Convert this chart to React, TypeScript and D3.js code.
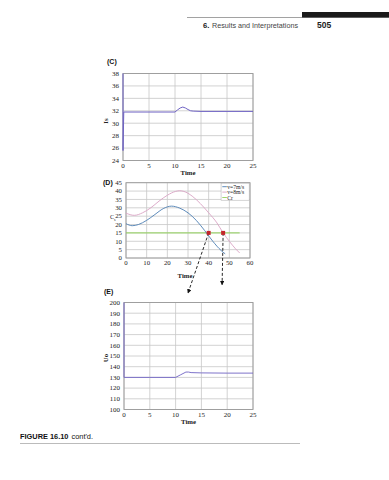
import React from 'react';
import * as d3 from 'd3';

// ---------- data ----------
const cTicksX = [0, 5, 10, 15, 20, 25];
const cTicksY = [24, 26, 28, 30, 32, 34, 36, 38];
const cTime = [0, 0, 0.15, 5, 10, 10.5, 11, 11.5, 12, 12.5, 13, 13.5, 15, 20, 25];
const cIs = [38, 25.6, 31.8, 31.8, 31.8, 32.15, 32.45, 32.6, 32.45, 32.2, 32.0, 31.95, 31.9, 31.9, 31.9];

const dTicksX = [0, 10, 20, 30, 40, 50, 60];
const dTicksY = [0, 5, 10, 15, 20, 25, 30, 35, 40, 45];
const d7Time = [0, 3, 6, 10, 14, 18, 22, 26, 30, 34, 38, 42, 46, 48];
const d7Val = [20.5, 19.3, 20, 22.5, 26, 29.5, 31, 29.8, 27, 22.5, 16.5, 10, 4.5, 2.5];
const d8Time = [0, 4, 8, 12, 16, 20, 24, 26, 28, 32, 36, 40, 44, 47, 50, 53, 55];
const d8Val = [26.8, 25.5, 27, 30, 34, 37.5, 39.8, 40.2, 39.8, 37, 32.5, 27, 21, 15, 10, 5.5, 3];
const crTime = [0, 55];
const crVal = [15, 15];
const dotTime = [40, 47];
const dotVal = [15, 15];
const arrowEndTime = [30, 46.5];
const arrowEndVal = [-21, -16];
const legendLabels = ['v=7m/s', 'v=8m/s', 'Cr'];

const eTicksX = [0, 5, 10, 15, 20, 25];
const eTicksY = [100, 110, 120, 130, 140, 150, 160, 170, 180, 190, 200];
const eTime = [0, 0, 0.15, 5, 10, 11, 12, 12.5, 13, 15, 20, 25];
const eUo = [200, 130, 130, 130, 130, 132.5, 135, 135, 134.5, 134.2, 134, 134];

// ---------- styles ----------
const GRID = '#c6c6c6';
const FRAME = '#9a9a9a';
const SERIF = 'Liberation Serif, serif';
const SANS = 'Liberation Sans, Arial, sans-serif';
const PURPLE = '#6f63c4';
const BLUE = '#4d7fb3';
const PINK = '#d9a3c4';
const GREEN = '#92d35a';
const RED = '#c4262b';

type Box = { l: number; r: number; t: number; b: number };

function Frame({ x, y, xt, yt, box, xl, fs = 7 }: any) {
  return (
    <g>
      {xt.map((v: number) => (
        <line key={'gx' + v} x1={x(v)} x2={x(v)} y1={box.t} y2={box.b} stroke={GRID} strokeWidth={0.8} />
      ))}
      {yt.map((v: number) => (
        <line key={'gy' + v} x1={box.l} x2={box.r} y1={y(v)} y2={y(v)} stroke={GRID} strokeWidth={0.8} />
      ))}
      <rect x={box.l} y={box.t} width={box.r - box.l} height={box.b - box.t} fill="none" stroke={FRAME} strokeWidth={0.9} />
      {xt.map((v: number) => (
        <text key={'tx' + v} x={x(v)} y={box.b + 7} fontSize={fs} fontFamily={SERIF} textAnchor="middle" fill="#222">{v}</text>
      ))}
      {yt.map((v: number) => (
        <text key={'ty' + v} x={box.l - 4} y={y(v) + 2.3} fontSize={fs} fontFamily={SERIF} textAnchor="end" fill="#222">{v}</text>
      ))}
      {xl ? (
        <text x={(box.l + box.r) / 2} y={box.b + 14.5} fontSize={6.8} fontFamily={SERIF} fontWeight="bold" textAnchor="middle" fill="#222">{xl}</text>
      ) : null}
    </g>
  );
}

export default function App() {
  // Plot C
  const bc: Box = { l: 123, r: 253, t: 73.5, b: 160.5 };
  const xc = d3.scaleLinear().domain([0, 25]).range([bc.l, bc.r]);
  const yc = d3.scaleLinear().domain([24, 38]).range([bc.b, bc.t]);
  const lineC = d3.line<number>().x((_, i) => xc(cTime[i])).y((v) => yc(v));

  // Plot D
  const bd: Box = { l: 126, r: 250, t: 182.7, b: 258 };
  const xd = d3.scaleLinear().domain([0, 60]).range([bd.l, bd.r]);
  const yd = d3.scaleLinear().domain([0, 45]).range([bd.b, bd.t]);
  const mk = (ts: number[]) => d3.line<number>().x((_, i) => xd(ts[i])).y((v) => yd(v)).curve(d3.curveMonotoneX);

  // Plot E
  const be: Box = { l: 124, r: 253, t: 302.5, b: 409.5 };
  const xe = d3.scaleLinear().domain([0, 25]).range([be.l, be.r]);
  const ye = d3.scaleLinear().domain([100, 200]).range([be.b, be.t]);
  const lineE = d3.line<number>().x((_, i) => xe(eTime[i])).y((v) => ye(v));

  const legendColors = [BLUE, PINK, GREEN];

  return (
    <svg width={389} height={480} style={{ position: 'absolute', left: 0, top: 0, background: '#fff' }}>
      <defs>
        <marker id="arr" viewBox="0 0 10 10" refX={9} refY={5} markerWidth={5} markerHeight={5} orient="auto">
          <path d="M0,0 L10,5 L0,10 z" fill="#111" />
        </marker>
      </defs>

      {/* page header */}
      <line x1={187} x2={389} y1={17.5} y2={17.5} stroke="#8a8a8a" strokeWidth={0.8} />
      <rect x={302} y={12} width={87} height={5.5} fill="#1a1a1a" />
      <text x={203} y={28} fontSize={7.6} fontFamily={SANS} fontWeight="bold" fill="#222">6.</text>
      <text x={212} y={28} fontSize={7.6} fontFamily={SANS} fill="#444" textLength={86} lengthAdjust="spacingAndGlyphs">Results and Interpretations</text>
      <text x={317} y={28} fontSize={8.5} fontFamily={SANS} fontWeight="bold" fill="#222">505</text>

      {/* Plot C */}
      <text x={107} y={64} fontSize={7} fontFamily={SANS} fontWeight="bold" fill="#111">(C)</text>
      <Frame x={xc} y={yc} xt={cTicksX} yt={cTicksY} box={bc} xl="Time" />
      <text transform={`translate(108,${(bc.t + bc.b) / 2 + 4}) rotate(-90)`} fontSize={6.8} fontFamily={SERIF} fontWeight="bold" textAnchor="middle" fill="#222">Is</text>
      <path d={lineC(cIs) || ''} fill="none" stroke={PURPLE} strokeWidth={1} />

      {/* Plot D */}
      <text x={103} y={185} fontSize={7} fontFamily={SANS} fontWeight="bold" fill="#111">(D)</text>
      <Frame x={xd} y={yd} xt={dTicksX} yt={dTicksY} box={bd} xl="" fs={6.8} />
      <text x={110} y={219} fontSize={6} fontFamily={SERIF} fill="#222">C<tspan fontSize={4} dy={1.5}>s</tspan></text>
      <path d={mk(crTime)(crVal) || ''} fill="none" stroke={GREEN} strokeWidth={1} />
      <path d={mk(d7Time)(d7Val) || ''} fill="none" stroke={BLUE} strokeWidth={0.9} />
      <path d={mk(d8Time)(d8Val) || ''} fill="none" stroke={PINK} strokeWidth={0.9} />
      {dotTime.map((t, i) => (
        <line key={'ar' + i} x1={xd(t)} y1={yd(dotVal[i])} x2={xd(arrowEndTime[i])} y2={yd(arrowEndVal[i])} stroke="#111" strokeWidth={0.9} strokeDasharray="3,2" markerEnd="url(#arr)" />
      ))}
      {dotTime.map((t, i) => (
        <rect key={'dot' + i} x={xd(t) - 2} y={yd(dotVal[i]) - 2} width={4} height={4} fill={RED} />
      ))}
      <rect x={xd(46)} y={bd.t + 0.5} width={xd(59.6) - xd(46)} height={17} fill="#fff" stroke="#aaa" strokeWidth={0.5} />
      {legendLabels.map((lab, i) => (
        <g key={'lg' + i}>
          <line x1={xd(46.6)} x2={xd(48.8)} y1={bd.t + 4 + i * 5.4} y2={bd.t + 4 + i * 5.4} stroke={legendColors[i]} strokeWidth={0.9} />
          <text x={xd(49)} y={bd.t + 6 + i * 5.4} fontSize={5.6} fontFamily={SERIF} fill="#222">{lab}</text>
        </g>
      ))}
      <text x={185} y={278} fontSize={6.8} fontFamily={SERIF} fontWeight="bold" textAnchor="middle" fill="#222">Time</text>

      {/* Plot E */}
      <text x={104} y={294} fontSize={7} fontFamily={SANS} fontWeight="bold" fill="#111">(E)</text>
      <Frame x={xe} y={ye} xt={eTicksX} yt={eTicksY} box={be} xl="Time" />
      <text transform={`translate(108,${(be.t + be.b) / 2 + 2}) rotate(-90)`} fontSize={6.8} fontFamily={SERIF} fontWeight="bold" textAnchor="middle" fill="#222">Uo</text>
      <path d={lineE(eUo) || ''} fill="none" stroke={PURPLE} strokeWidth={0.9} />

      {/* caption */}
      <text x={20} y={439} fontSize={7.4} fontFamily={SANS} fill="#111">
        <tspan fontWeight="bold">FIGURE 16.10</tspan>
        <tspan dx={3}>cont'd.</tspan>
      </text>
      <line x1={20} x2={300} y1={443.5} y2={443.5} stroke="#aaa" strokeWidth={0.8} />
    </svg>
  );
}
